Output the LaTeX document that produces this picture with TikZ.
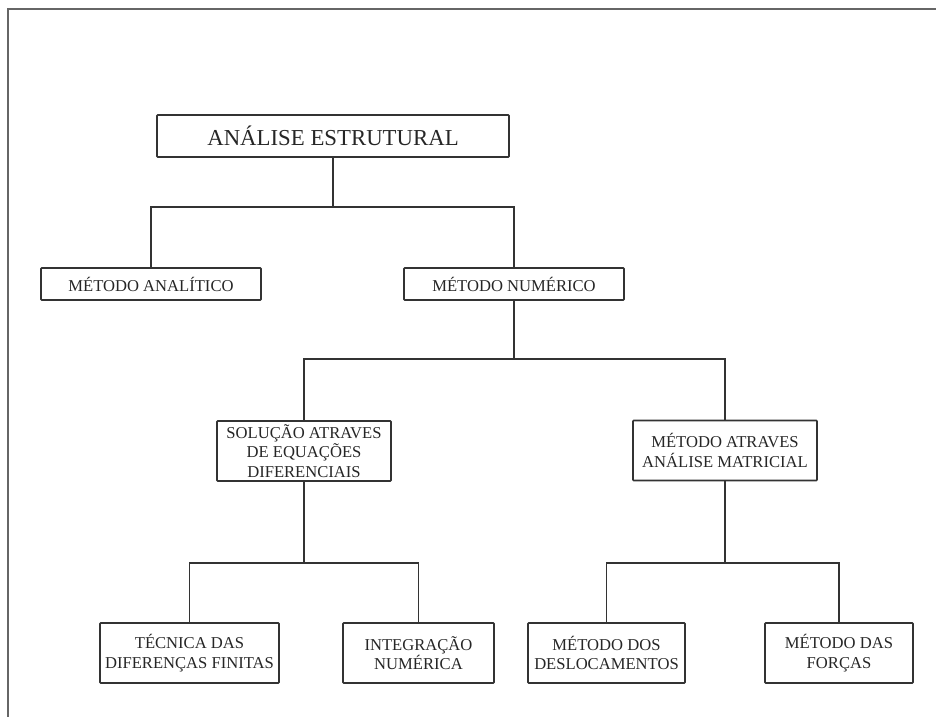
\documentclass[tikz,border=0pt]{standalone}
\usepackage{fontspec}
\setmainfont{Liberation Serif}
\begin{document}
\begin{tikzpicture}[x=1pt,y=-1pt,
  box/.style={draw=black!80, line width=1.6pt, rectangle, rounded corners=0.8pt, inner sep=0pt,
    align=center, text=black!85, font=\fontsize{16.6}{19.5}\selectfont, minimum height=60pt},
  link/.style={draw=black!80, line width=1.6pt},
  frameline/.style={draw=black!60, line width=1.2pt}]
\useasboundingbox (0,0) rectangle (936,717);
\draw[frameline] (936,9) -- (8,9) -- (8,717);
\node[box, minimum width=352pt, minimum height=42pt, font=\fontsize{22.8}{26}\selectfont] (top) at (333,136) {ANÁLISE ESTRUTURAL};
\node[box, minimum width=220pt, minimum height=32pt] (anal) at (151,284) {MÉTODO ANALÍTICO};
\node[box, minimum width=220pt, minimum height=32pt] (num) at (514,284) {MÉTODO NUMÉRICO};
\node[box, minimum width=174pt] (sol) at (304,451) {SOLUÇÃO ATRAVES\\DE EQUAÇÕES\\DIFERENCIAIS};
\node[box, minimum width=184pt] (mat) at (725,450.5) {MÉTODO ATRAVES\\ANÁLISE MATRICIAL};
\node[box, minimum width=179pt] (tec) at (189.5,653) {TÉCNICA DAS\\DIFERENÇAS FINITAS};
\node[box, minimum width=151pt] (int) at (418.5,653) {INTEGRAÇÃO\\NUMÉRICA};
\node[box, minimum width=157pt] (des) at (606.5,653) {MÉTODO DOS\\DESLOCAMENTOS};
\node[box, minimum width=148pt] (forc) at (839,653) {MÉTODO DAS\\FORÇAS};
\coordinate (b1) at (333,207);
\coordinate (b2) at (514,359);
\coordinate (b3) at (304,563);
\coordinate (b4) at (725,563);
\draw[link] (top.south) -- (b1);
\draw[link] (anal.north) |- (b1) -| (num.north);
\draw[link] (num.south) -- (b2);
\draw[link] (sol.north) |- (b2) -| (mat.north);
\draw[link] (sol.south) -- (b3);
\draw[link] (tec.north) |- (b3) -| (int.north);
\draw[link] (mat.south) -- (b4);
\draw[link] (des.north) |- (b4) -| (forc.north);
\end{tikzpicture}
\end{document}
